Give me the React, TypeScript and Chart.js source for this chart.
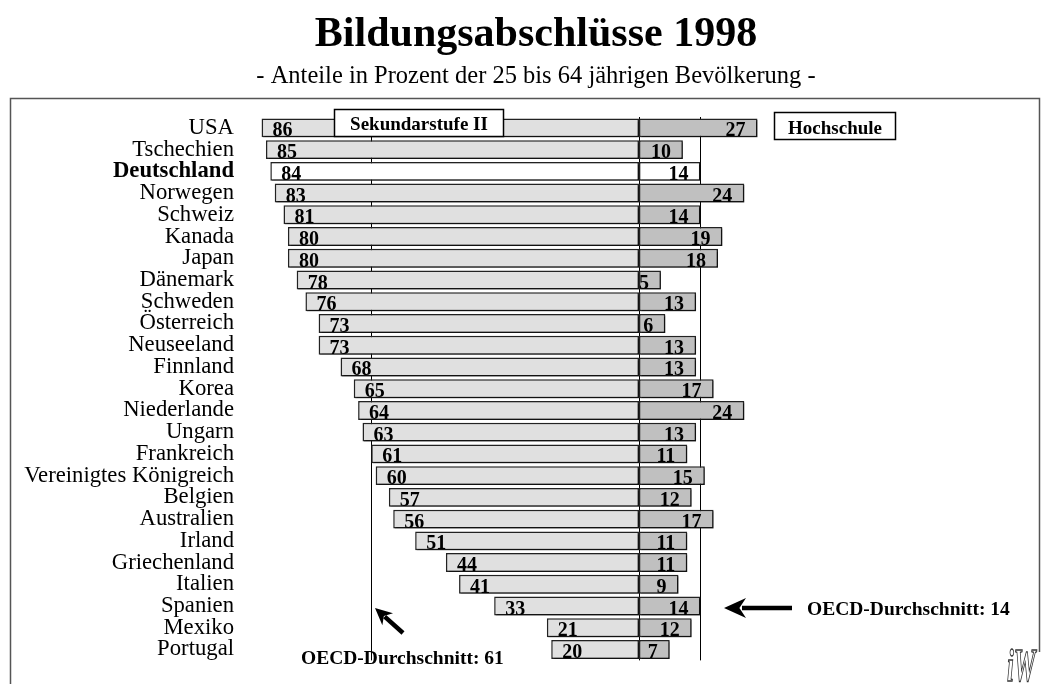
import React, { useEffect, useRef } from "react";
import { Chart, registerables } from "chart.js";

Chart.register(...registerables);

const countries: string[] = [
  "USA", "Tschechien", "Deutschland", "Norwegen", "Schweiz", "Kanada", "Japan",
  "Dänemark", "Schweden", "Österreich", "Neuseeland", "Finnland", "Korea",
  "Niederlande", "Ungarn", "Frankreich", "Vereinigtes Königreich", "Belgien",
  "Australien", "Irland", "Griechenland", "Italien", "Spanien", "Mexiko", "Portugal",
];
const sekundarstufe: number[] = [86, 85, 84, 83, 81, 80, 80, 78, 76, 73, 73, 68, 65, 64, 63, 61, 60, 57, 56, 51, 44, 41, 33, 21, 20];
const hochschule: number[] = [27, 10, 14, 24, 14, 19, 18, 5, 13, 6, 13, 13, 17, 24, 13, 11, 15, 12, 17, 11, 11, 9, 14, 12, 7];
const oecdSek = 61;
const oecdHoch = 14;
const highlight = "Deutschland";

const TITLE = "Bildungsabschlüsse 1998";
const SUBTITLE = "- Anteile in Prozent der 25 bis 64 jährigen Bevölkerung -";
const SERIF = '"Liberation Serif", "Times New Roman", Times, serif';

export default function App() {
  const ref = useRef<HTMLCanvasElement | null>(null);

  useEffect(() => {
    const canvas = ref.current;
    if (!canvas) return;

    const decor = {
      id: "decor",
      beforeDraw(chart: any) {
        const ctx = chart.ctx;
        ctx.save();
        ctx.fillStyle = "#ffffff";
        ctx.fillRect(0, 0, chart.width, chart.height);
        ctx.fillStyle = "#000";
        ctx.textAlign = "center";
        ctx.textBaseline = "alphabetic";
        ctx.font = `bold 42px ${SERIF}`;
        ctx.fillText(TITLE, 536, 46);
        ctx.font = `24.5px ${SERIF}`;
        ctx.fillText(SUBTITLE, 536, 83);
        // frame
        ctx.strokeStyle = "#555";
        ctx.lineWidth = 1.5;
        ctx.beginPath();
        ctx.moveTo(10.5, 700);
        ctx.lineTo(10.5, 98.5);
        ctx.lineTo(1039.5, 98.5);
        ctx.lineTo(1039.5, 652);
        ctx.stroke();
        ctx.restore();
      },
      beforeDatasetsDraw(chart: any) {
        const ctx = chart.ctx;
        const xs = chart.scales.x;
        const area = chart.chartArea;
        ctx.save();
        ctx.strokeStyle = "#000";
        ctx.lineWidth = 1;
        [-oecdSek, 0, oecdHoch].forEach((v) => {
          const px = Math.round(xs.getPixelForValue(v)) + 0.5;
          ctx.beginPath();
          ctx.moveTo(px, area.top);
          ctx.lineTo(px, area.bottom);
          ctx.stroke();
        });
        ctx.restore();
        ctx.save();
        ctx.shadowColor = "rgba(0,0,0,0.45)";
        ctx.shadowOffsetX = 1.5;
        ctx.shadowOffsetY = 1.5;
        ctx.shadowBlur = 0;
      },
      afterDatasetsDraw(chart: any) {
        const ctx = chart.ctx;
        ctx.restore();
        const xs = chart.scales.x;
        const ys = chart.scales.y;
        ctx.save();
        ctx.fillStyle = "#000";
        ctx.font = `bold 20px ${SERIF}`;
        ctx.textBaseline = "alphabetic";
        countries.forEach((_, i) => {
          const cy = ys.getPixelForValue(i);
          const base = cy + 8.5;
          const l = xs.getPixelForValue(-sekundarstufe[i]);
          ctx.textAlign = "left";
          ctx.fillText(String(sekundarstufe[i]), l + 11, base);
          const r = xs.getPixelForValue(hochschule[i]);
          ctx.textAlign = "right";
          ctx.fillText(String(hochschule[i]), r - 12, base);
        });

        // legend boxes
        const box = (x: number, y: number, w: number, h: number, text: string, by: number) => {
          ctx.fillStyle = "#fff";
          ctx.fillRect(x, y, w, h);
          ctx.strokeStyle = "#000";
          ctx.lineWidth = 1.5;
          ctx.strokeRect(x, y, w, h);
          ctx.fillStyle = "#000";
          ctx.textAlign = "center";
          ctx.font = `bold 19px ${SERIF}`;
          ctx.fillText(text, x + w / 2, by);
        };
        box(334.5, 109.5, 169, 27, "Sekundarstufe II", 130);
        box(774.5, 112.5, 121, 27, "Hochschule", 134);

        // annotations
        ctx.fillStyle = "#000";
        ctx.textAlign = "left";
        ctx.font = `bold 19.5px ${SERIF}`;
        ctx.fillText(`OECD-Durchschnitt: ${oecdHoch}`, 807, 615);
        ctx.fillText(`OECD-Durchschnitt: ${oecdSek}`, 301, 664);

        const arrow = (tx: number, ty: number, sx: number, sy: number, hl: number, hw: number) => {
          const ang = Math.atan2(ty - sy, tx - sx);
          const bx = tx - Math.cos(ang) * hl;
          const byy = ty - Math.sin(ang) * hl;
          ctx.strokeStyle = "#000";
          ctx.lineWidth = 4.5;
          ctx.beginPath();
          ctx.moveTo(sx, sy);
          ctx.lineTo(tx - Math.cos(ang) * (hl - 4), ty - Math.sin(ang) * (hl - 4));
          ctx.stroke();
          ctx.beginPath();
          ctx.moveTo(tx, ty);
          ctx.lineTo(bx + Math.cos(ang + Math.PI / 2) * hw, byy + Math.sin(ang + Math.PI / 2) * hw);
          ctx.lineTo(tx - Math.cos(ang) * (hl * 0.7), ty - Math.sin(ang) * (hl * 0.7));
          ctx.lineTo(bx - Math.cos(ang + Math.PI / 2) * hw, byy - Math.sin(ang + Math.PI / 2) * hw);
          ctx.closePath();
          ctx.fill();
        };
        arrow(724, 608, 792, 608, 22, 10);
        arrow(375, 608, 403, 633, 17, 8);

        // logo
        ctx.save();
        ctx.translate(1007, 681);
        ctx.scale(0.72, 1.35);
        ctx.strokeStyle = "#333";
        ctx.lineWidth = 1;
        ctx.font = `italic bold 34px ${SERIF}`;
        ctx.textAlign = "left";
        ctx.strokeText("iW", 0, 0);
        ctx.restore();
        ctx.restore();
      },
    };

    const chart = new Chart(canvas, {
      type: "bar",
      data: {
        labels: countries,
        datasets: [
          {
            label: "Sekundarstufe II",
            data: sekundarstufe.map((v) => -v),
            backgroundColor: countries.map((c) => (c === highlight ? "#ffffff" : "#e0e0e0")),
            borderColor: "#222",
            borderWidth: 1.5,
            borderSkipped: false,
            grouped: false,
            barPercentage: 0.87,
            categoryPercentage: 1,
          } as any,
          {
            label: "Hochschule",
            data: hochschule,
            backgroundColor: countries.map((c) => (c === highlight ? "#ffffff" : "#c0c0c0")),
            borderColor: "#222",
            borderWidth: 1.5,
            borderSkipped: false,
            grouped: false,
            barPercentage: 0.87,
            categoryPercentage: 1,
          } as any,
        ],
      },
      options: {
        indexAxis: "y",
        responsive: false,
        animation: false,
        devicePixelRatio: 1,
        layout: { padding: { top: 117, bottom: 16, left: 0, right: 10 } },
        plugins: {
          legend: { display: false },
          title: { display: false },
          tooltip: { enabled: false },
        },
        scales: {
          x: { display: false, min: -90, max: 90 },
          y: {
            type: "category",
            grid: { display: false, drawTicks: false },
            border: { display: false },
            afterFit: (scale: any) => {
              scale.width = 244;
            },
            ticks: {
              padding: 10,
              color: "#000",
              autoSkip: false,
              font: (ctx: any) => ({
                family: SERIF,
                size: 22.7,
                weight: countries[ctx.index] === highlight ? "bold" : "normal",
              }),
            },
          },
        },
      } as any,
      plugins: [decor],
    });

    return () => chart.destroy();
  }, []);

  return (
    <div style={{ position: "fixed", left: 0, top: 0, width: 1044, height: 684, background: "#fff" }}>
      <canvas ref={ref} width={1044} height={684} style={{ display: "block", width: 1044, height: 684 }} />
    </div>
  );
}
